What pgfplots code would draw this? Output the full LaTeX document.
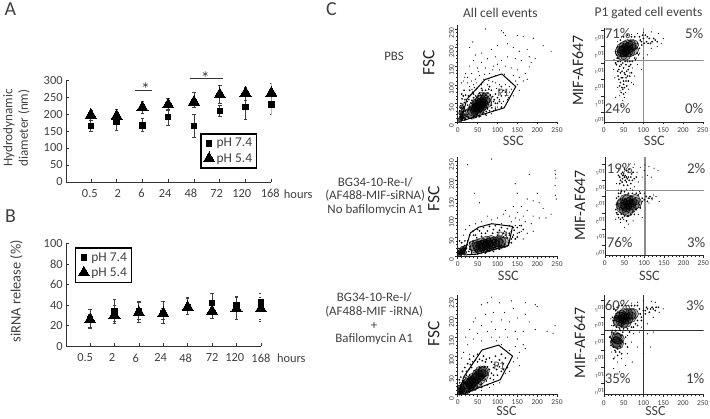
\documentclass[border=0pt]{standalone}
\usepackage{pgfplots}
\usepackage{pgfplotstable}
\usepackage{fontspec}
\setmainfont{Carlito}
\pgfplotsset{compat=1.18}
\definecolor{tx}{HTML}{404040}
\definecolor{glc}{HTML}{8C8C8C}
\pgfplotstableread{
x y ep em
0 164 16 15
1 178 22 26
2 166 21 17
3 192 23 24
4 164 36 33
5 209 16 16
6 220 35 36
7 228 29 29
}\Aa
\pgfplotstableread{
x y ep em
0 197 15 15
1 194 19 19
2 219 17 18
3 228 17 18
4 236 27 17
5 258 28 26
6 262 18 22
7 262 28 28
}\Ab
\pgfplotstableread{
x y ep em
0 26.5 9 8.5
1 34.6 11.4 10.6
2 34 9.7 11
3 32 11.7 9.4
4 38 10 7
5 42 10 11
6 40 8.5 14
7 42.7 9.3 18.7
}\Ba
\pgfplotstableread{
x y ep em
0 26 5 9
1 30 10 8
2 33 10 7
3 32 5 6
4 38 9 7
5 34 3 6.5
6 36.5 11.5 10.5
7 36.5 11.5 10.5
}\Bb
\pgfplotsset{
 /pgf/number format/assume math mode=true,
 bar/.style={scale only axis,axis lines*=left,xmin=-0.96,xmax=7,tick align=inside,major tick length=3pt,
  axis line style={black!80,line width=.7pt},tick style={black!80,line width=.7pt},
  xtick={0,...,7},xticklabels={},
  extra x tick style={major tick length=0pt},
  tick label style={text=tx,font=\fontsize{12.5}{13}\selectfont},
  x tick label style={yshift=-4pt},
  label style={text=tx,align=center},
  legend cell align=left,
  legend style={draw=black,line width=1.4pt,text=tx,font=\fontsize{13.5}{15}\selectfont,inner sep=2.5pt,row sep=1pt,
   legend image code/.code={\draw[mark repeat=2,mark phase=2,#1] plot coordinates {(0pt,0pt)(6pt,0pt)(12pt,0pt)};}}},
 s74/.style={only marks,black,mark=square*,mark size=2.7pt,mark options={line width=0pt},
   error bars/.cd,y dir=both,y explicit,error bar style={tx,line width=.8pt},error mark options={rotate=90,mark size=1.8pt,tx,line width=.8pt}},
 s54/.style={only marks,black,mark=triangle*,mark size=6.5pt,mark options={line width=0pt},
   error bars/.cd,y dir=both,y explicit,error bar style={tx,line width=.8pt},error mark options={rotate=90,mark size=1.8pt,tx,line width=.8pt}},
 flow/.style={scale only axis,axis lines*=left,xmin=0,xmax=252,tick align=outside,
  axis line style={black!85,line width=.5pt},tick style={black!85,line width=.4pt},
  major tick length=2.5pt,minor tick length=1.5pt,
  xtick={0,50,100,150,200,250},minor x tick num=4,
  tick label style={text=tx,font=\fontsize{7.5}{8}\selectfont,inner sep=1pt},
  x tick label style={yshift=-2pt},
  y tick label style={rotate=90,anchor=south,xshift=-4pt},
  clip=true},
 fl/.style={flow,ymin=0,ymax=261,ytick={0,50,100,150,200,250},minor y tick num=4},
 fr/.style={flow,ytick={0,1,2,3,4,5},yticklabels={10$^{0}$,10$^{1}$,10$^{2}$,10$^{3}$,10$^{4}$,10$^{5}$},
   y tick label style={rotate=90,anchor=south,xshift=2pt,font=\fontsize{6}{6}\selectfont}},
 sp/.style={only marks,mark=*,mark size=.32pt,mark options={draw=none,fill=black!55}},
 md/.style={only marks,mark=*,mark size=.65pt,mark options={draw=none,fill=black!80,fill opacity=.55}},
 co/.style={only marks,mark=*,mark size=5.5pt,mark options={draw=none,fill=black,fill opacity=.28}},
 dk/.style={only marks,mark=*,mark size=2.2pt,mark options={draw=none,fill=black,fill opacity=.6}},
 gate/.style={no marks,black,line width=1pt},
 qline/.style={no marks,glc,line width=1.1pt},
}
\newcommand\T[4][11]{\node[text=tx,font=\fontsize{#1}{#1}\selectfont,inner sep=0pt,align=center] at (#2,421-#3) {#4};}
\begin{document}
\begin{tikzpicture}[x=1pt,y=1pt]
\path (0,0) rectangle (710,421);
% Panel A
\begin{axis}[bar,at={(63pt,238pt)},anchor=south west,width=206.5pt,height=102.3pt,ymin=0,ymax=300,ytick={0,50,...,300},
 extra x ticks={-0.04,1.04,1.96,2.88,3.88,4.88,5.85,6.96},extra x tick labels={0.5,2,6,24,48,72,120,168},
 ylabel={Hydrodynamic\\diameter (nm)},y label style={font=\fontsize{13.2}{15.5}\selectfont,at={(axis description cs:-0.242,0.53)},anchor=center},
 legend style={at={(axis description cs:0.654,0.479)},anchor=north west}]
\addplot+[s74] table[x=x,y=y,y error plus=ep,y error minus=em]{\Aa};
\addplot+[s54] table[x=x,y=y,y error plus=ep,y error minus=em]{\Ab};
\legend{pH 7.4,pH 5.4}
\end{axis}
\draw[black!80,line width=.7pt] (132,421-91)--(149,421-91) (188,421-79)--(221,421-79);
\T[18]{143}{90}{*}
\T[18]{203}{79}{*}
\node[text=tx,font=\fontsize{12.5}{13}\selectfont,anchor=west,inner sep=0pt] at (282,421-195) {hours};
% Panel B
\begin{axis}[bar,at={(63pt,72.7pt)},anchor=south west,width=196pt,height=103pt,ymin=0,ymax=100,ytick={0,20,...,100},xmin=-0.98,
 extra x ticks={-0.2,0.9,1.87,2.89,3.92,5,5.93,7},extra x tick labels={0.5,2,6,24,48,72,120,168},
 ylabel={siRNA release (\%)},y label style={font=\fontsize{14.5}{17}\selectfont,at={(axis description cs:-0.255,0.535)},anchor=center},
 legend style={at={(axis description cs:0.046,0.964)},anchor=north west}]
\addplot+[s74] table[x=x,y=y,y error plus=ep,y error minus=em]{\Ba};
\addplot+[s54] table[x=x,y=y,y error plus=ep,y error minus=em]{\Bb};
\legend{pH 7.4,pH 5.4}
\end{axis}
\node[text=tx,font=\fontsize{12.5}{13}\selectfont,anchor=west,inner sep=0pt] at (275,421-360) {hours};
% C row 1 left
\begin{axis}[fl,at={(457pt,298.3pt)},anchor=south west,width=100.8pt,height=97.7pt]
\addplot[sp] coordinates {(30,200)(38,215)(70,250)(110,245)(115,240)(120,232)(150,232)(165,230)(190,225)(235,190)(215,205)(45,180)(60,185)(85,195)(100,205)(125,210)(140,200)(155,190)(175,195)(195,170)(185,160)(180,175)(160,165)(145,170)(125,175)(110,165)(95,175)(75,170)(60,160)(40,165)(30,150)(50,145)(70,145)(90,150)(105,140)(120,150)(135,145)(150,140)(170,130)(180,148)(165,110)(175,115)(155,120)(140,125)(20,130)(25,120)(35,130)(45,115)(55,125)(80,130)(95,125)(85,120)(65,115)(15,110)(10,105)(130,95)(120,100)(115,85)(105,100)(95,105)(75,100)(60,100)(40,100)(30,95)(130,80)(140,70)(125,60)(115,55)(100,40)(110,50)(150,100)(155,85)(90,30)(80,25)(35,110)(52,135)(68,128)(88,140)(100,155)(118,128)(130,112)(146,110)(78,112)(98,90)(108,75)(120,70)(88,108)(25,105)(18,120)(48,105)(64,108)(42,92)(36,88)(95,40)(105,60)(135,88)(128,65)(58,15)(72,18)(85,22)};
\addplot[co] coordinates {(32,24)(38,30)(44,35)(50,40)(56,46)(62,52)(68,58)(72,64)(42,42)(50,50)(58,58)(46,30)(56,38)(64,46)(72,52)(50,45)(60,42)(36,22)(62,66)(54,42)(48,36)(58,50)};
\addplot[md] coordinates {(10,10)(12,25)(15,40)(8,50)(18,60)(14,70)(20,30)(22,15)(6,20)(25,45)(28,60)(32,72)(38,80)(45,70)(55,78)(70,85)(85,85)(95,75)(100,65)(90,55)(85,45)(75,35)(65,25)(50,20)(40,14)(28,10)(18,5)(105,85)(110,95)(80,95)(60,90)(48,90)(30,85)(110,70)(70,20)(120,80)(16,85)(10,75)(20,8)(24,20)(27,33)(30,40)(34,50)(36,58)(40,65)(44,60)(48,66)(52,70)(58,72)(64,76)(70,72)(76,78)(82,72)(88,68)(92,60)(95,50)(86,38)(80,30)(72,28)(62,22)(54,14)(46,12)(34,10)(26,14)(16,12)(12,8)(7,14)(5,30)(9,38)(13,48)(17,52)(11,62)(20,72)(24,55)(27,70)(40,75)(62,85)(78,88)(100,50)(105,55)(95,35)(110,40)};
\addplot[dk] coordinates {(6,6)(9,12)(12,20)(8,24)(14,32)(10,40)(16,14)};
\addplot[gate] coordinates {(8,3)(23,61)(69,114)(111,129)(146,95)(117,38)(23,7)(8,3)};
\end{axis}
% C row 1 right
\begin{axis}[fr,at={(604pt,298.3pt)},anchor=south west,width=100.5pt,height=94.7pt,ymin=-0.6,ymax=5.15]
\addplot[sp] coordinates {(30,0.9)(40,1.0)(48,0.7)(55,1.2)(35,1.5)(62,1.4)(70,1.8)(28,2.1)(78,2.2)(85,2.9)(95,2.6)(90,3.6)(100,3.3)(110,3.5)(120,3.9)(135,4.0)(145,4.2)(150,4.5)(138,4.8)(120,4.9)(100,4.85)(85,4.8)(70,4.75)(45,4.6)(35,4.3)(30,3.6)(26,3.2)(25,2.6)(32,2.9)(82,3.3)(75,1.7)(45,0.4)(52,0.9)(41,1.3)(66,2.4)(72,2.7)};
\addplot[co] coordinates {(46,3.5)(52,3.7)(60,3.9)(68,4.0)(74,4.1)(46,3.9)(52,4.0)(60,4.1)(68,4.1)(42,3.7)(55,3.5)(65,3.7)(74,3.8)(52,3.8)(60,3.7)(48,3.7)};
\addplot[md] coordinates {(32,2.9)(38,2.6)(44,2.9)(50,2.7)(56,2.9)(62,2.6)(68,2.9)(36,2.2)(42,2.4)(48,2.1)(54,2.3)(60,2.2)(66,2.2)(42,1.8)(50,1.7)(56,1.9)(48,1.4)(85,4.2)(92,4.4)(100,4.5)(108,4.3)(115,4.5)(122,4.3)(130,4.4)(96,4.1)(112,4.2)(88,3.5)(80,3.2)(34,3.3)(30,3.7)(105,4.7)(30,3.0)(35,2.5)(40,2.8)(46,2.5)(52,2.4)(58,2.5)(64,2.8)(70,2.4)(38,2.0)(44,2.1)(50,1.9)(56,2.1)(62,1.9)(40,1.6)(46,1.5)(52,1.5)(58,1.6)(44,1.2)(50,1.1)(36,3.1)(42,3.1)(48,3.0)(54,3.1)(60,3.1)(66,3.1)(72,3.1)(78,3.3)(84,3.6)(90,3.9)(95,4.3)(102,4.2)(110,4.6)(118,4.2)(126,4.5)(135,4.3)(90,4.6)(98,4.7)(78,4.6)(70,4.6)(60,4.7)(50,4.6)(42,4.4)(35,4.0)(32,3.5)(38,3.3)(82,3.9)};
\addplot[qline] coordinates {(0,3.15)(252,3.15)};
\addplot[qline] coordinates {(101,-0.6)(101,5.15)};
\end{axis}
% C row 2 left
\begin{axis}[fl,at={(457pt,163.3pt)},anchor=south west,width=100.8pt,height=100pt]
\addplot[sp] coordinates {(25,240)(85,255)(42,165)(150,165)(145,190)(180,215)(245,225)(246,215)(247,205)(245,185)(246,160)(248,150)(200,165)(175,150)(190,145)(205,140)(215,125)(235,110)(222,100)(205,100)(190,105)(175,120)(160,130)(150,115)(170,90)(165,105)(185,85)(155,95)(145,100)(130,105)(115,110)(100,100)(85,95)(75,105)(60,90)(45,85)(30,80)(20,70)(15,55)(150,60)(160,65)(175,60)(165,45)(145,45)(155,80)(140,130)(190,65)(120,120)(55,140)(110,85)(135,90)(145,80)};
\addplot[co] coordinates {(44,22)(52,24)(60,27)(68,30)(76,32)(84,34)(92,36)(100,38)(108,38)(50,30)(60,34)(72,38)(84,40)(56,20)(68,22)(80,26)(92,30)(104,32)(42,28)(116,36)(64,28)(76,28)};
\addplot[md] coordinates {(5,40)(10,35)(18,40)(25,40)(30,55)(38,65)(50,70)(65,75)(80,78)(95,80)(110,75)(125,72)(135,65)(140,55)(145,45)(135,35)(120,25)(105,18)(90,12)(70,8)(50,6)(35,8)(28,12)(115,50)(125,48)(130,55)(100,62)(115,60)(60,60)(45,55)(150,75)(140,75)(155,62)(3,20)(18,28)(22,20)(35,14)(45,12)(60,12)(75,15)(90,20)(105,25)(118,30)(128,35)(135,45)(130,60)(118,65)(105,68)(90,70)(75,66)(60,52)(48,48)(38,38)(32,25)(30,35)(40,55)(55,66)(70,60)(88,60)(100,55)(120,55)(50,14)(65,14)(80,15)(95,22)(110,28)(30,18)(24,30)(138,50)(142,68)(150,50)(160,80)(165,70)(130,80)};
\addplot[dk] coordinates {(5,4)(8,8)(11,12)(14,16)(7,13)(17,10)(5,9)(12,20)(18,22)};
\addplot[gate] coordinates {(15,3)(32,61)(53,76)(86,85)(138,78)(128,28)(48,5)(15,3)};
\end{axis}
% C row 2 right
\begin{axis}[fr,at={(605pt,164pt)},anchor=south west,width=100pt,height=99pt,ymin=-0.63,ymax=5.44]
\addplot[sp] coordinates {(35,4.7)(45,4.9)(60,5.0)(72,4.8)(90,4.8)(100,4.6)(112,4.85)(125,4.75)(135,4.6)(108,4.3)(118,4.2)(95,4.2)(85,3.9)(75,3.6)(65,3.5)(30,3.8)(35,3.4)(28,1.6)(40,1.4)(50,1.1)(60,1.3)(72,1.5)(48,1.6)(35,1.9)(85,1.9)(95,1.7)(110,2.9)(120,2.8)(130,3.0)(138,2.7)(112,2.6)(124,3.1)(100,3.2)(88,3.3)(42,3.4)(55,3.45)(70,3.4)(82,4.5)(75,5.0)(102,4.95)};
\addplot[co] coordinates {(44,2.3)(50,2.2)(58,2.1)(66,2.3)(74,2.5)(80,2.6)(45,2.6)(52,2.5)(60,2.6)(68,2.7)(76,2.8)(52,2.8)(58,2.8)(42,2.5)(65,2.5)(55,2.4)};
\addplot[md] coordinates {(38,4.2)(45,4.5)(52,4.3)(60,4.5)(66,4.2)(44,3.9)(55,3.9)(66,3.8)(72,4.5)(80,4.2)(50,4.7)(62,4.7)(35,3.0)(30,2.5)(32,1.9)(45,1.7)(60,1.8)(75,1.9)(88,2.5)(95,2.9)(105,3.0)(112,2.9)(85,3.1)(70,3.2)(50,3.3)(40,3.2)(40,4.0)(48,4.4)(55,4.2)(62,4.0)(70,4.0)(42,4.4)(52,4.0)(60,4.2)(35,4.3)(38,3.8)(48,3.7)(58,3.7)(68,4.4)(75,4.1)(45,4.1)(55,4.6)(50,4.2)(57,4.1)(46,4.3)(30,2.9)(35,3.2)(28,2.2)(33,2.6)(35,1.7)(42,1.9)(50,1.8)(58,1.8)(66,1.9)(72,2.1)(80,2.2)(90,2.3)(95,2.7)(100,2.8)(108,2.7)(115,3.0)(120,2.9)(60,3.2)(80,3.2)(90,3.2)(42,3.3)(30,2.0)(40,1.6)(55,1.5)};
\addplot[qline] coordinates {(0,3.36)(252,3.36)};
\addplot[qline] coordinates {(102,-0.63)(102,5.44)};
\end{axis}
% C row 3 left
\begin{axis}[fl,at={(457pt,24.3pt)},anchor=south west,width=100.8pt,height=100pt]
\addplot[sp] coordinates {(85,255)(75,240)(60,235)(105,240)(135,245)(170,240)(195,235)(200,230)(140,225)(118,215)(90,215)(70,210)(45,200)(40,190)(60,180)(85,190)(110,195)(130,190)(150,200)(170,210)(180,190)(245,180)(240,160)(225,165)(195,170)(165,165)(145,165)(120,170)(95,170)(75,165)(50,160)(30,170)(20,150)(25,130)(40,145)(60,140)(85,150)(105,150)(125,150)(150,145)(165,130)(145,125)(110,130)(15,110)(10,95)(30,105)(170,120)(155,110)(150,95)(140,85)(155,75)(130,60)(120,55)(105,30)(90,25)(80,18)(60,10)(130,115)(98,140)};
\addplot[co] coordinates {(20,14)(24,18)(28,22)(33,28)(38,33)(43,38)(48,43)(53,48)(58,53)(63,58)(66,60)(30,34)(40,42)(50,52)(58,60)(36,22)(46,30)(56,40)(64,50)(20,20)(26,28)(34,30)};
\addplot[md] coordinates {(5,30)(8,45)(12,60)(18,70)(25,80)(30,92)(40,100)(50,105)(65,100)(80,95)(95,100)(105,90)(115,80)(125,70)(110,60)(100,50)(90,38)(75,25)(60,18)(45,12)(30,6)(20,3)(90,70)(100,75)(22,50)(35,70)(50,85)(70,85)(85,55)(15,30)(120,95)(110,105)(10,20)(14,35)(18,45)(22,60)(28,65)(32,78)(38,85)(45,90)(55,92)(62,88)(72,92)(85,85)(92,78)(98,65)(90,50)(82,42)(72,35)(60,25)(50,20)(40,15)(30,12)(22,8)(15,6)(8,25)(4,38)(75,72)(80,65)(68,72)(55,70)(42,62)(30,50)(25,40)(105,72)(115,65)};
\addplot[dk] coordinates {(5,3)(9,6)(12,10)(6,10)(4,18)(8,15)(14,14)};
\addplot[gate] coordinates {(3,2)(15,45)(61,116)(103,129)(138,100)(107,38)(15,2)(3,2)};
\end{axis}
% C row 3 right
\begin{axis}[fr,at={(604pt,24pt)},anchor=south west,width=100.5pt,height=100pt,ymin=-0.66,ymax=5.33]
\addplot[sp] coordinates {(20,1.9)(28,1.6)(35,1.3)(45,1.5)(55,1.1)(25,0.9)(40,0.7)(60,1.8)(72,1.3)(85,2.2)(100,2.4)(70,2.5)(60,2.9)(75,3.0)(90,3.1)(110,3.0)(125,3.1)(118,2.2)(100,1.8)(48,0.4)(130,4.9)(140,4.3)(150,4.5)(120,4.95)(100,5.0)(85,4.9)(70,4.85)(50,5.0)(25,4.5)(18,3.9)(20,3.5)(95,3.4)(110,3.6)(125,4.0)};
\addplot[co] coordinates {(36,3.8)(40,4.0)(44,4.1)(52,4.2)(60,4.2)(68,4.2)(74,4.2)(38,3.7)(44,3.8)(52,3.9)(60,3.9)(68,4.0)(42,4.0)(50,3.7)(56,3.7)(50,4.0)(30,2.5)(33,2.7)(36,2.4)(30,2.8)(38,2.7)(33,2.5)};
\addplot[md] coordinates {(100,4.4)(108,4.6)(115,4.3)(122,4.6)(130,4.4)(138,4.6)(92,4.2)(105,4.2)(118,4.5)(95,3.8)(85,3.5)(75,3.4)(50,3.3)(40,3.3)(25,3.5)(22,4.0)(25,4.5)(38,4.7)(55,4.7)(70,4.7)(85,4.7)(60,3.3)(15,2.8)(18,2.3)(48,2.5)(55,2.8)(30,1.9)(40,1.9)(60,2.2)(22,3.2)(65,3.1)(28,4.0)(30,4.4)(34,4.6)(46,4.7)(62,4.7)(78,4.7)(90,4.5)(95,4.0)(85,3.8)(80,3.6)(70,3.4)(45,3.4)(32,3.4)(26,3.8)(110,4.5)(125,4.5)(132,4.6)(105,4.4)(20,2.6)(24,2.2)(28,2.0)(35,2.1)(42,2.2)(46,2.9)(48,3.1)(42,3.2)(30,3.2)(25,3.0)(20,3.1)(35,1.7)(45,1.8)(25,1.5)(55,2.4)};
\addplot[no marks,black!80,line width=.7pt] coordinates {(0,3.23)(252,3.23)};
\addplot[no marks,black!80,line width=.7pt] coordinates {(100,-0.66)(100,5.33)};
\end{axis}
% Panel letters
\T[20]{7}{9}{A}
\T[20]{7}{217}{B}
\T[20]{330}{9}{C}
% Column titles
\T[13.5]{500}{13}{All cell events}
\T[13.5]{649}{13}{P1 gated cell events}
% Row labels
\T[13]{393}{57}{PBS}
\T[13]{374}{183}{BG34-10-Re-I/}
\T[13]{374}{197}{(AF488-MIF-siRNA)}
\T[13]{374}{211}{No bafilomycin A1}
\T[13]{373}{299}{BG34-10-Re-I/}
\T[13]{373}{314}{(AF488-MIF -iRNA)}
\T[13]{373}{328}{+}
\T[13]{373}{341}{Bafilomycin A1}
% FSC/SSC
\newcommand\FSC[2]{\node[rotate=90,text=black!85,font=\fontsize{17.5}{18}\selectfont,inner sep=0pt] at (#1,421-#2) {FSC};}
\newcommand\MIF[2]{\node[rotate=90,text=black!85,font=\fontsize{16}{16}\selectfont,inner sep=0pt] at (#1,421-#2) {MIF-AF647};}
\FSC{428}{63}\FSC{433}{200}\FSC{433}{336}
\MIF{578}{71}\MIF{580}{207}\MIF{580}{345}
\T[14.5]{513}{142}{SSC}\T[14.5]{655}{142}{SSC}
\T[14.5]{508}{278}{SSC}\T[14.5]{650}{278}{SSC}
\T[14]{506}{414}{SSC}\T[14]{656}{414}{SSC}
% percentages
\T[15]{618}{34}{71\%}\T[15]{695}{34}{5\%}\T[15]{618}{109}{24\%}\T[15]{695}{109}{0\%}
\T[15]{620}{170}{19\%}\T[15]{697}{170}{2\%}\T[15]{620}{244}{76\%}\T[15]{697}{244}{3\%}
\T[15]{618}{307}{60\%}\T[15]{696}{307}{3\%}\T[15]{618}{381}{35\%}\T[15]{696}{381}{1\%}
% P1
\T[11.5]{503}{93}{P1}\T[11.5]{503}{237}{P1}\T[11.5]{499}{368}{P1}
\end{tikzpicture}
\end{document}
